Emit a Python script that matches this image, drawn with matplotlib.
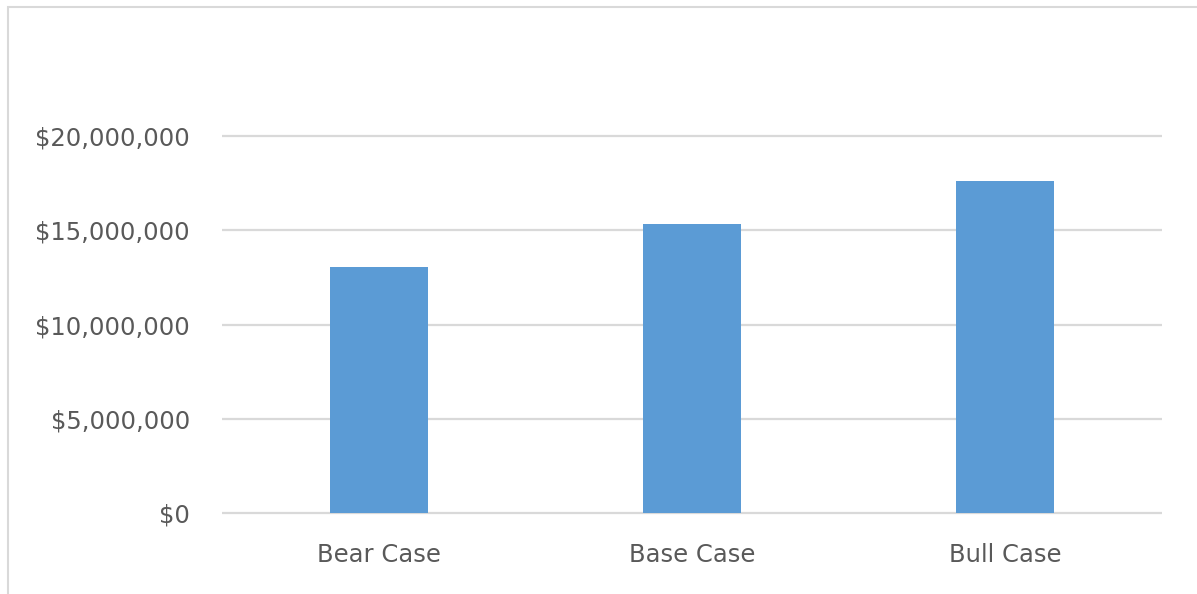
import matplotlib
matplotlib.use("Agg")
import matplotlib.pyplot as plt
from matplotlib.patches import Rectangle
from matplotlib.ticker import FuncFormatter

# scenario values
cases = ["Bear Case", "Base Case", "Bull Case"]
values = [13050000, 15330000, 17600000]
y_ticks = [0, 5000000, 10000000, 15000000, 20000000]

bar_color = "#5B9BD5"
grid_color = "#D9D9D9"
text_color = "#595959"

W, H = 1197, 594
fig = plt.figure(figsize=(W / 100, H / 100), dpi=100)
fig.patch.set_facecolor("white")

# outer chart border (only top and left edges are visible in the crop)
fig.patches.append(Rectangle((7.5 / W, -0.05), 1.2, (H - 6.5) / H + 0.05,
                             transform=fig.transFigure, fill=False,
                             edgecolor=grid_color, linewidth=1.5))

ylo, yhi = -200000, 20200000
px_per = (513 - 136) / 20000000
bot_px = 513 + (0 - ylo) * px_per
top_px = 136 - (yhi - 20000000) * px_per
ax = fig.add_axes([222 / W, (H - bot_px) / H, 940 / W, (bot_px - top_px) / H])

x = range(len(cases))
ax.bar(x, values, width=0.313, color=bar_color, zorder=3)

ax.set_xlim(-0.5, len(cases) - 0.5)
ax.set_ylim(ylo, yhi)
ax.set_yticks(y_ticks)
ax.yaxis.set_major_formatter(FuncFormatter(lambda v, p: "${:,.0f}".format(v)))
ax.set_xticks(list(x))
ax.set_xticklabels(cases)

for t in y_ticks:
    ax.axhline(t, color=grid_color, linewidth=1.6, zorder=1)

for s in ax.spines.values():
    s.set_visible(False)
ax.tick_params(axis="both", length=0, labelsize=17.5, labelcolor=text_color)
ax.tick_params(axis="y", pad=23)
ax.tick_params(axis="x", pad=19)

fig.savefig("out.png", dpi=100)
